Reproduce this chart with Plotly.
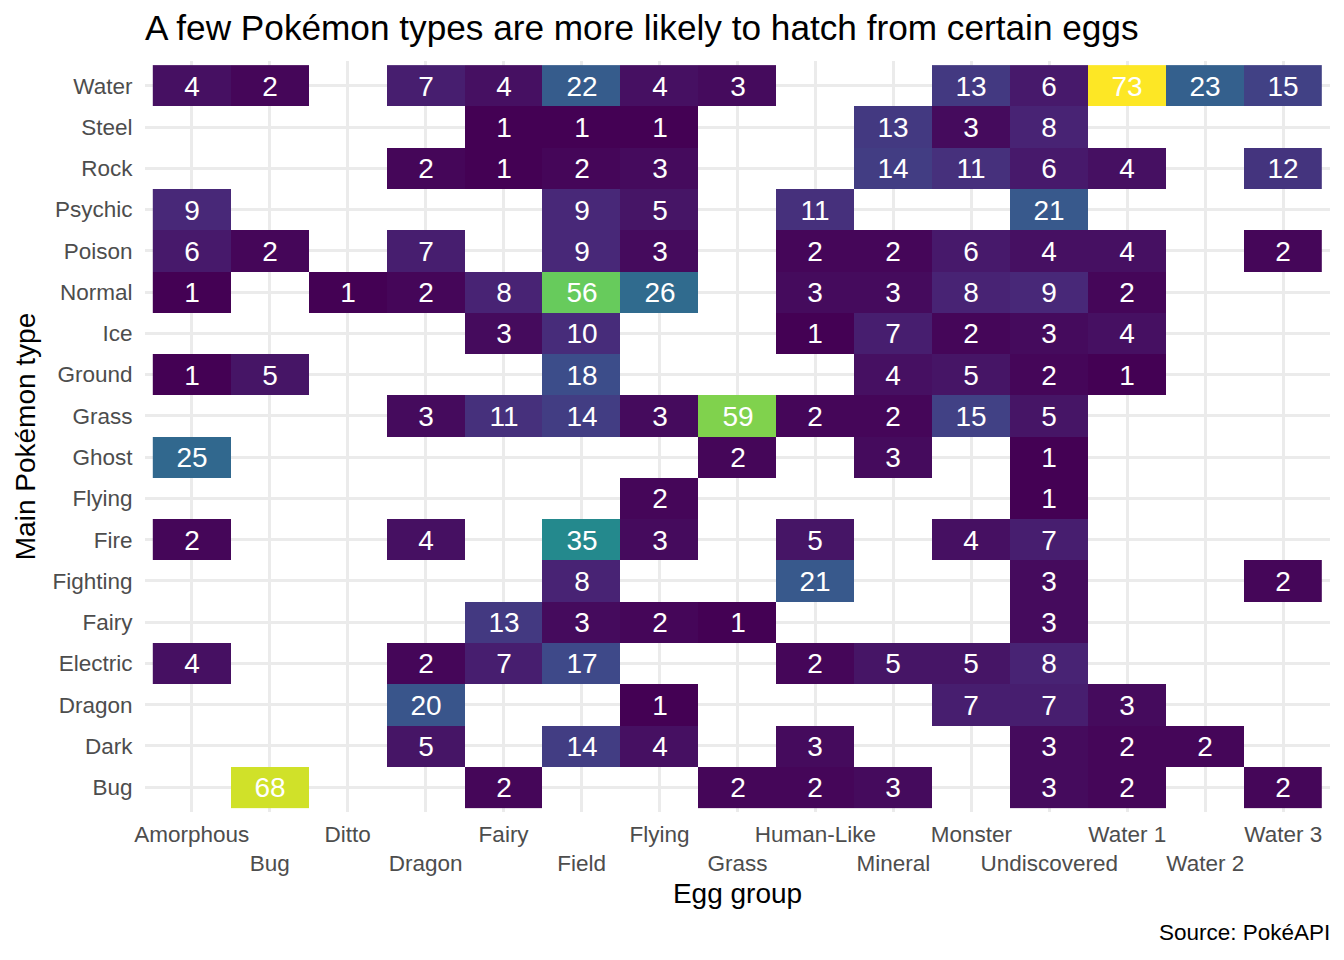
import plotly.graph_objects as go

egg_groups = ["Amorphous", "Bug", "Ditto", "Dragon", "Fairy", "Field", "Flying", "Grass",
              "Human-Like", "Mineral", "Monster", "Undiscovered", "Water 1", "Water 2", "Water 3"]

types = ["Bug", "Dark", "Dragon", "Electric", "Fairy", "Fighting", "Fire", "Flying", "Ghost",
         "Grass", "Ground", "Ice", "Normal", "Poison", "Psychic", "Rock", "Steel", "Water"]

N = None
bug_counts      = [N, 68, N, N, 2, N, N, 2, 2, 3, N, 3, 2, N, 2]
dark_counts     = [N, N, N, 5, N, 14, 4, N, 3, N, N, 3, 2, 2, N]
dragon_counts   = [N, N, N, 20, N, N, 1, N, N, N, 7, 7, 3, N, N]
electric_counts = [4, N, N, 2, 7, 17, N, N, 2, 5, 5, 8, N, N, N]
fairy_counts    = [N, N, N, N, 13, 3, 2, 1, N, N, N, 3, N, N, N]
fighting_counts = [N, N, N, N, N, 8, N, N, 21, N, N, 3, N, N, 2]
fire_counts     = [2, N, N, 4, N, 35, 3, N, 5, N, 4, 7, N, N, N]
flying_counts   = [N, N, N, N, N, N, 2, N, N, N, N, 1, N, N, N]
ghost_counts    = [25, N, N, N, N, N, N, 2, N, 3, N, 1, N, N, N]
grass_counts    = [N, N, N, 3, 11, 14, 3, 59, 2, 2, 15, 5, N, N, N]
ground_counts   = [1, 5, N, N, N, 18, N, N, N, 4, 5, 2, 1, N, N]
ice_counts      = [N, N, N, N, 3, 10, N, N, 1, 7, 2, 3, 4, N, N]
normal_counts   = [1, N, 1, 2, 8, 56, 26, N, 3, 3, 8, 9, 2, N, N]
poison_counts   = [6, 2, N, 7, N, 9, 3, N, 2, 2, 6, 4, 4, N, 2]
psychic_counts  = [9, N, N, N, N, 9, 5, N, 11, N, N, 21, N, N, N]
rock_counts     = [N, N, N, 2, 1, 2, 3, N, N, 14, 11, 6, 4, N, 12]
steel_counts    = [N, N, N, N, 1, 1, 1, N, N, 13, 3, 8, N, N, N]
water_counts    = [4, 2, N, 7, 4, 22, 4, 3, N, N, 13, 6, 73, 23, 15]

z = [bug_counts, dark_counts, dragon_counts, electric_counts, fairy_counts, fighting_counts,
     fire_counts, flying_counts, ghost_counts, grass_counts, ground_counts, ice_counts,
     normal_counts, poison_counts, psychic_counts, rock_counts, steel_counts, water_counts]

text = [["" if v is None else str(v) for v in row] for row in z]

# staggered x tick labels (two rows)
x_ticktext = [g if i % 2 == 0 else "<br>" + g for i, g in enumerate(egg_groups)]

FONT = "Liberation Sans, Arial, Helvetica, sans-serif"

fig = go.Figure(go.Heatmap(
    x=egg_groups, y=types, z=z, text=text, texttemplate="%{text}",
    textfont=dict(size=28, color="white", family=FONT),
    colorscale="Viridis", zmin=1, zmax=73, showscale=False,
    xgap=0, ygap=0, hoverongaps=False,
))

# the page body has an 8px margin, so work in page coordinates minus 8
OFF = 8
W, H = 1344 - OFF, 960 - OFF
L, R, T, B = 145 - OFF, 14, 61 - OFF, 148
PH = H - T - B

fig.update_layout(
    width=W, height=H,
    margin=dict(l=L, r=R, t=T, b=B, autoexpand=False),
    paper_bgcolor="white", plot_bgcolor="white",
    font=dict(family=FONT, color="black"),
    title=dict(text="A few Pokémon types are more likely to hatch from certain eggs",
               font=dict(size=35.2, color="black", family=FONT),
               xref="paper", x=0, xanchor="left",
               yref="container", y=1 - (28 - OFF) / H, yanchor="middle"),
    xaxis=dict(
        type="category", categoryorder="array", categoryarray=egg_groups,
        range=[-0.6, len(egg_groups) - 0.4],
        tickmode="array", tickvals=egg_groups, ticktext=x_ticktext, tickangle=0,
        tickfont=dict(size=22.5, color="#4D4D4D", family=FONT),
        ticks="outside", ticklen=2, tickcolor="rgba(0,0,0,0)",
        showgrid=True, gridcolor="#EBEBEB", gridwidth=3,
        zeroline=False, showline=False, automargin=False,
        title=dict(text="Egg group", font=dict(size=28, color="black", family=FONT), standoff=8),
    ),
    yaxis=dict(
        type="category", categoryorder="array", categoryarray=types,
        range=[-0.6, len(types) - 0.4],
        tickfont=dict(size=22.5, color="#4D4D4D", family=FONT),
        ticks="outside", ticklen=7, tickcolor="rgba(0,0,0,0)",
        showgrid=True, gridcolor="#EBEBEB", gridwidth=3,
        zeroline=False, showline=False, automargin=False,
        title=dict(text="Main Pokémon type", font=dict(size=28, color="black", family=FONT), standoff=8),
    ),
    annotations=[dict(
        text="Source: PokéAPI", xref="paper", yref="paper",
        x=1, xanchor="right", xshift=2, y=-(932 - (960 - B)) / PH, yanchor="middle",
        showarrow=False, font=dict(size=22.5, color="black", family=FONT),
    )],
)

fig.write_html("out.html")
